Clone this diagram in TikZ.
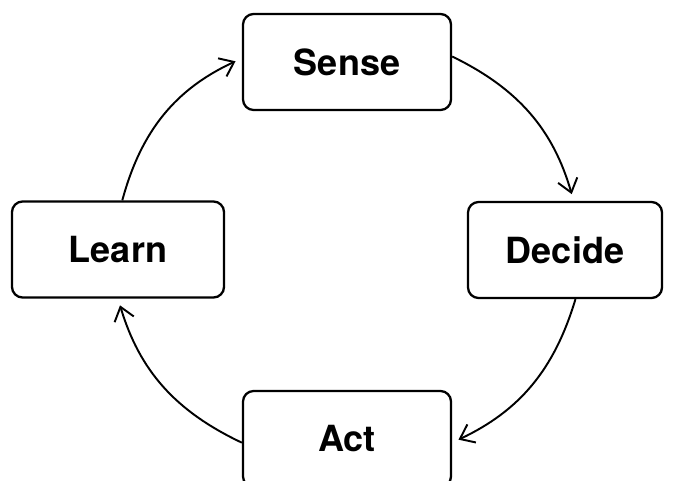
\documentclass[tikz,border=0pt]{standalone}
\usepackage{fontspec}
\setmainfont{TeX Gyre Heros}
\usetikzlibrary{arrows.meta}

\begin{document}
\begin{tikzpicture}[font=\fontsize{20.5}{24}\selectfont\bfseries,
  box/.style={draw=black, line width=1.3pt, rounded corners=6pt, align=center,
    minimum height=1.92cm, inner sep=2pt, fill=white, text=black},
  conn/.style={draw=black, line width=1.1pt, shorten >=0.14cm,
    -{Straight Barb[length=0.26cm, width=0.4cm, line width=1.1pt]}}]
\useasboundingbox (0,0) rectangle (13.46,-9.62);
\node[box, minimum width=4.16cm] (sense)  at (6.94,-1.24) {Sense};
\node[box, minimum width=3.88cm] (decide) at (11.30,-5.00) {Decide};
\node[box, minimum width=4.16cm] (act)    at (6.94,-8.78) {Act};
\node[box, minimum width=4.24cm] (learn)  at (2.36,-4.99) {Learn};
\draw[conn] (sense.3)    to[bend left=24] (decide.80);
\draw[conn] (decide.-78) to[bend left=24] (act.-2);
\draw[conn] (act.182)    to[bend left=24] (learn.270);
\draw[conn] (learn.85)   to[bend left=25] (sense.178);
\end{tikzpicture}
\end{document}
